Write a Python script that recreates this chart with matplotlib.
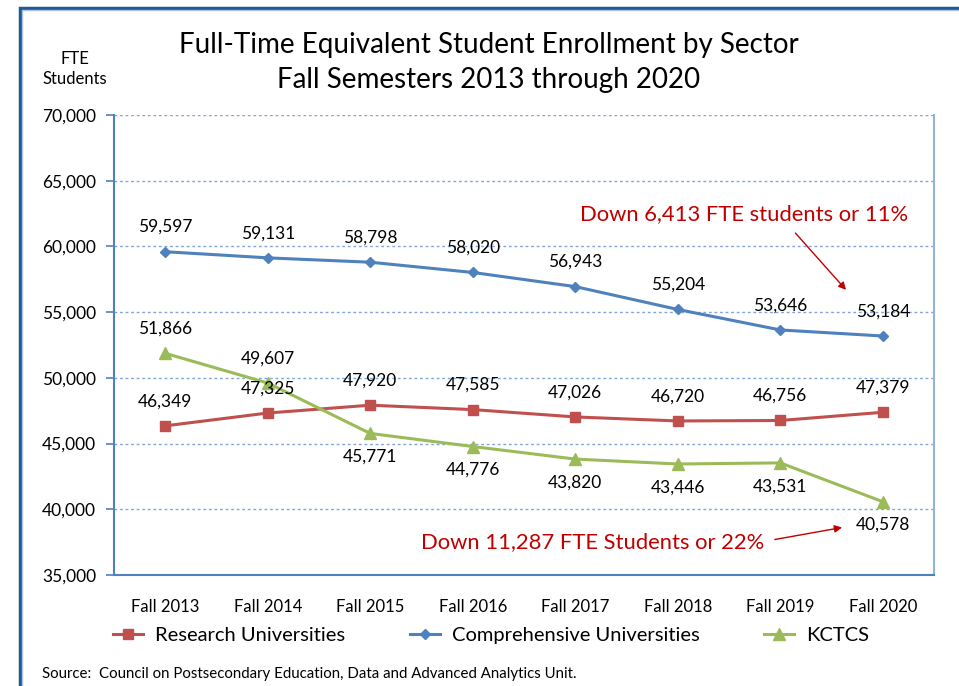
import matplotlib
matplotlib.use("Agg")
import matplotlib.pyplot as plt
from matplotlib.patches import Rectangle
from matplotlib.ticker import FuncFormatter, MultipleLocator

plt.rcParams['font.family'] = ['Lato', 'DejaVu Sans']

categories = ["Fall 2013", "Fall 2014", "Fall 2015", "Fall 2016",
              "Fall 2017", "Fall 2018", "Fall 2019", "Fall 2020"]
research = [46349, 47325, 47920, 47585, 47026, 46720, 46756, 47379]
comprehensive = [59597, 59131, 58798, 58020, 56943, 55204, 53646, 53184]
kctcs = [51866, 49607, 45771, 44776, 43820, 43446, 43531, 40578]
kctcs_label_above = [True, True, False, False, False, False, False, False]

c_res = "#C0504D"
c_comp = "#4F81BD"
c_kc = "#9BBB59"
c_red = "#C00000"

W, H = 959, 686
fig = plt.figure(figsize=(W / 100, H / 100), dpi=100)
ax = fig.add_axes([114 / W, 1 - 575 / H, (934 - 114) / W, (575 - 115) / H])

x = list(range(len(categories)))
ax.plot(x, research, color=c_res, lw=2.2, marker="s", ms=7.5, label="Research Universities", zorder=3)
ax.plot(x, comprehensive, color=c_comp, lw=2.2, marker="D", ms=5.5, label="Comprehensive Universities", zorder=3)
ax.plot(x, kctcs, color=c_kc, lw=2.2, marker="^", ms=8.5, label="KCTCS", zorder=3)

ax.set_xlim(-0.5, len(categories) - 0.5)
ax.set_ylim(35000, 70000)
ax.yaxis.set_major_locator(MultipleLocator(5000))
ax.yaxis.set_major_formatter(FuncFormatter(lambda v, p: f"{int(v):,}"))
ax.set_xticks(x)
ax.set_xticklabels(categories)
ax.tick_params(axis="x", length=0, pad=17, labelsize=12)
ax.tick_params(axis="y", length=6, width=1.2, color=c_comp, labelsize=12.5, pad=7, direction="out")

ax.grid(axis="y", color="#7FA6D6", ls=(0, (2, 2)), lw=1.0)
ax.set_axisbelow(True)
ax.spines["top"].set_visible(False)
ax.spines["left"].set_color(c_comp)
ax.spines["left"].set_linewidth(1.5)
ax.spines["bottom"].set_color(c_comp)
ax.spines["bottom"].set_linewidth(1.5)
ax.spines["right"].set_color("#95B3D7")
ax.spines["right"].set_linewidth(1.5)

fs = 12.5
for i in x:
    ax.annotate(f"{comprehensive[i]:,}", (i, comprehensive[i]), xytext=(0, 12),
                textcoords="offset points", ha="center", va="bottom", fontsize=fs)
    ax.annotate(f"{research[i]:,}", (i, research[i]), xytext=(0, 12),
                textcoords="offset points", ha="center", va="bottom", fontsize=fs)
    if kctcs_label_above[i]:
        ax.annotate(f"{kctcs[i]:,}", (i, kctcs[i]), xytext=(0, 12),
                    textcoords="offset points", ha="center", va="bottom", fontsize=fs)
    else:
        ax.annotate(f"{kctcs[i]:,}", (i, kctcs[i]), xytext=(0, -11),
                    textcoords="offset points", ha="center", va="top", fontsize=fs)

ax.text(5.65, 62467, "Down 6,413 FTE students or 11%", color=c_red, fontsize=15.8,
        ha="center", va="center")
ax.annotate("", xy=(6.66, 56533), xytext=(6.13, 61174),
            arrowprops=dict(arrowstyle="-|>", color=c_red, lw=1.0, mutation_scale=11))
ax.text(4.17, 37511, "Down 11,287 FTE Students or 22%", color=c_red, fontsize=15.8,
        ha="center", va="center")
ax.annotate("", xy=(6.63, 38652), xytext=(5.92, 37663),
            arrowprops=dict(arrowstyle="-|>", color=c_red, lw=1.0, mutation_scale=11))

fig.text(489 / W, 1 - 45 / H, "Full-Time Equivalent Student Enrollment by Sector",
         ha="center", va="center", fontsize=20)
fig.text(489 / W, 1 - 80 / H, "Fall Semesters 2013 through 2020",
         ha="center", va="center", fontsize=20)
fig.text(75 / W, 1 - 69 / H, "FTE\nStudents", ha="center", va="center", fontsize=12,
         linespacing=1.35)
fig.text(42 / W, 1 - 674 / H,
         "Source:  Council on Postsecondary Education, Data and Advanced Analytics Unit.",
         ha="left", va="center", fontsize=10.8)

fig.legend(loc="center", bbox_to_anchor=(491 / W, 1 - 635 / H), ncol=3, frameon=False,
           fontsize=14.5, handlelength=1.5, columnspacing=3.2, handletextpad=0.6)

fig.patches.append(Rectangle((19.5 / W, -0.1), 1.2, 1 - 7.5 / H + 0.1,
                             transform=fig.transFigure, fill=False,
                             edgecolor="#1F5A96", lw=2.5, zorder=10))
fig.patches.append(Rectangle((22 / W, -0.1), 1.2, 1 - 10 / H + 0.1,
                             transform=fig.transFigure, fill=False,
                             edgecolor="#A9C4E4", lw=1.0, zorder=10))

fig.savefig("out.png", dpi=100)
